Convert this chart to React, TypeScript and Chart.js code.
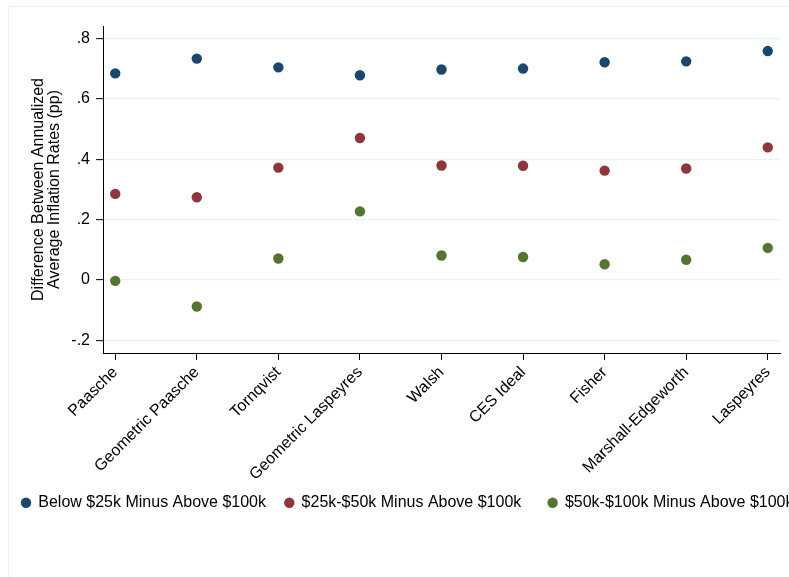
import React, { useEffect, useRef } from "react";
import { Chart, registerables } from "chart.js";

Chart.register(...registerables);

// ---- Data ----
const categories = [
  "Paasche",
  "Geometric Paasche",
  "Tornqvist",
  "Geometric Laspeyres",
  "Walsh",
  "CES Ideal",
  "Fisher",
  "Marshall-Edgeworth",
  "Laspeyres",
];
const below25kMinusAbove100k = [0.684, 0.733, 0.704, 0.678, 0.697, 0.7, 0.721, 0.724, 0.758];
const from25kTo50kMinusAbove100k = [0.285, 0.274, 0.372, 0.47, 0.379, 0.378, 0.362, 0.369, 0.439];
const from50kTo100kMinusAbove100k = [-0.003, -0.088, 0.071, 0.227, 0.081, 0.076, 0.052, 0.067, 0.106];
const seriesLabels = [
  "Below $25k Minus Above $100k",
  "$25k-$50k Minus Above $100k",
  "$50k-$100k Minus Above $100k",
];
const yTickValues = [-0.2, 0, 0.2, 0.4, 0.6, 0.8];
const yTitle = ["Difference Between Annualized", "Average Inflation Rates (pp)"];

const COLORS = ["#1a476f", "#90353b", "#55752f"];
const FONT = "'Liberation Sans', Arial, Helvetica, sans-serif";

const fmtY = (v: number) => {
  if (Math.abs(v) < 1e-9) return "0";
  return v.toFixed(1).replace("0.", ".");
};

const legendPlugin = {
  id: "stataLegend",
  afterDraw(chart: any) {
    const ctx = chart.ctx as CanvasRenderingContext2D;
    ctx.save();
    ctx.font = `16px ${FONT}`;
    ctx.textAlign = "left";
    ctx.textBaseline = "alphabetic";
    chart.data.datasets.forEach((ds: any, i: number) => {
      const cx = 17 + i * 263.3;
      const cy = 495.8;
      ctx.fillStyle = ds.backgroundColor;
      ctx.beginPath();
      ctx.arc(cx, cy, 5.2, 0, Math.PI * 2);
      ctx.fill();
      ctx.fillStyle = "#000";
      ctx.fillText(ds.label, cx + 12.3, 500.3);
    });
    ctx.restore();
  },
};

export default function App() {
  const ref = useRef<HTMLCanvasElement | null>(null);

  useEffect(() => {
    if (!ref.current) return;
    Chart.defaults.font.family = FONT;
    const series = [below25kMinusAbove100k, from25kTo50kMinusAbove100k, from50kTo100kMinusAbove100k];
    const chart = new Chart(ref.current, {
      type: "scatter",
      data: {
        datasets: series.map((vals, s) => ({
          label: seriesLabels[s],
          data: vals.map((y, i) => ({ x: i, y })),
          backgroundColor: COLORS[s],
          borderColor: COLORS[s],
          borderWidth: 0,
          pointRadius: 5.2,
          pointHoverRadius: 5.2,
          showLine: false,
        })),
      },
      options: {
        animation: false,
        responsive: false,
        events: [],
        layout: { padding: { left: 0, top: 19, right: 69, bottom: 100 } },
        plugins: {
          legend: { display: false },
          tooltip: { enabled: false },
        },
        scales: {
          x: {
            type: "linear",
            min: -0.15,
            max: 8.15,
            afterBuildTicks: (s: any) => {
              s.ticks = categories.map((_, i) => ({ value: i }));
            },
            afterFit: (s: any) => {
              s.height = 154;
            },
            grid: {
              drawOnChartArea: false,
              drawTicks: true,
              tickLength: 7,
              tickColor: "#000",
              tickWidth: 1,
            },
            border: { display: true, color: "#000", width: 1 },
            ticks: {
              autoSkip: false,
              minRotation: 45,
              maxRotation: 45,
              padding: 3,
              color: "#000",
              font: { size: 16 },
              callback: (v: any) => categories[v] ?? "",
            },
          },
          y: {
            type: "linear",
            min: -0.242,
            max: 0.841,
            afterBuildTicks: (s: any) => {
              s.ticks = yTickValues.map((v) => ({ value: v }));
            },
            afterFit: (s: any) => {
              s.width = 94;
            },
            grid: {
              color: "#eaf2f3",
              lineWidth: 1.3,
              drawTicks: true,
              tickLength: 7,
              tickColor: "#000",
              tickWidth: 1,
            },
            border: { display: true, color: "#000", width: 1 },
            ticks: {
              padding: 6,
              color: "#000",
              font: { size: 16 },
              callback: (v: any) => fmtY(Number(v)),
            },
            title: {
              display: true,
              text: yTitle,
              color: "#000",
              font: { size: 16, lineHeight: 0.97 },
              padding: { top: 22, bottom: 0 },
            },
          },
        },
      } as any,
      plugins: [legendPlugin],
    });
    return () => chart.destroy();
  }, []);

  return (
    <div
      style={{
        position: "fixed",
        left: 8,
        top: 6,
        width: 781,
        height: 571,
        overflow: "hidden",
        borderTop: "1px solid #edf1f3",
        borderLeft: "1px solid #edf1f3",
        boxSizing: "border-box",
        background: "#fff",
      }}
    >
      <canvas ref={ref} width={840} height={600} style={{ display: "block", width: 840, height: 600 }} />
    </div>
  );
}
